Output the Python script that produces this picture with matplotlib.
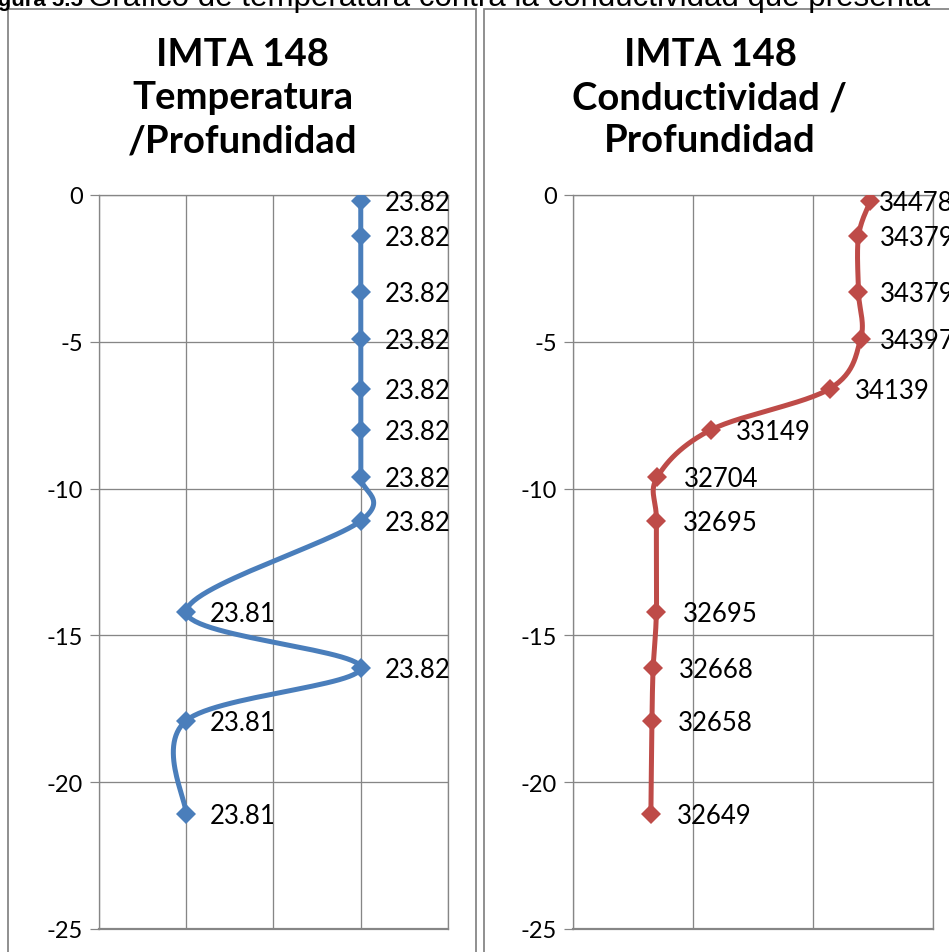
import numpy as np
import matplotlib
matplotlib.use('Agg')
import matplotlib.pyplot as plt
from matplotlib.patches import Rectangle

matplotlib.rcParams.update({
    'font.family': ['Lato', 'DejaVu Sans'],
    'axes.unicode_minus': False,
    'figure.facecolor': 'white',
})

# ── Data ───────────────────────────────────────────────────────────────────
depth = [-0.2, -1.4, -3.3, -4.9, -6.6, -8.0, -9.6, -11.1, -14.2, -16.1, -17.9, -21.1]
temp = [23.82, 23.82, 23.82, 23.82, 23.82, 23.82, 23.82, 23.82, 23.81, 23.82, 23.81, 23.81]
cond = [34478, 34379, 34379, 34397, 34139, 33149, 32704, 32695, 32695, 32668, 32658, 32649]

title_l = 'IMTA 148\nTemperatura\n/Profundidad'
title_r = 'IMTA 148\nConductividad /\nProfundidad'
caption_b = 'Figura 5.5'
caption = 'Gráfico de temperatura contra la conductividad que presenta'

# ── Style ──────────────────────────────────────────────────────────────────
W, H = 949, 953
BLUE = '#4A7EBB'
RED = '#BE4B48'
GRID = '#868686'
PX = 72 / 100  # points per pixel at dpi 100

# label x offsets (pixels) — Excel pushed the top ones inside the chart area
dx_l = [24] * 12
dx_r = [9, 21, 21, 19, 25, 25, 26, 26, 26, 26, 26, 26]


def fx(px):
    return px / W


def fy(py):
    return 1 - py / H


def smooth_path(ax, xs, ys, n=30):
    """Excel-like smoothed line: Catmull-Rom Bezier built in display space."""
    pts = ax.transData.transform(np.column_stack([xs, ys]))
    P = np.vstack([pts[0], pts, pts[-1]])
    out = []
    t = np.linspace(0, 1, n)[:, None]
    for i in range(1, len(P) - 2):
        p0, p3 = P[i], P[i + 1]
        c1 = p0 + (P[i + 1] - P[i - 1]) / 6
        c2 = p3 - (P[i + 2] - P[i]) / 6
        seg = ((1 - t) ** 3) * p0 + 3 * ((1 - t) ** 2) * t * c1 \
            + 3 * (1 - t) * t ** 2 * c2 + t ** 3 * p3
        out.append(seg if i == 1 else seg[1:])
    out = np.vstack(out)
    return ax.transData.inverted().transform(out)


def panel(ax, xv, xlim, xstep, color, labels, dx):
    ax.set_xlim(*xlim)
    ax.set_ylim(-25, 0)
    ax.set_xticks(np.arange(xlim[0], xlim[1] + xstep / 2, xstep))
    ax.set_yticks(np.arange(-25, 1, 5))
    ax.tick_params(axis='x', length=0, labelbottom=False)
    ax.tick_params(axis='y', length=9 * PX, width=1.2 * PX, color=GRID,
                   pad=7 * PX, labelsize=17, direction='out')
    ax.grid(True, color=GRID, lw=1.3 * PX, zorder=0)
    for s in ax.spines.values():
        s.set_color(GRID)
        s.set_linewidth(1.3 * PX)
    ax.spines['bottom'].set_linewidth(2.2 * PX)
    ax.set_axisbelow(True)

    sm = smooth_path(ax, xv, depth)
    ax.plot(sm[:, 0], sm[:, 1], color=color, lw=5 * PX, zorder=3,
            solid_capstyle='round', solid_joinstyle='round')
    ax.plot(xv, depth, ls='none', marker='D', ms=10, mew=0, color=color, zorder=4)
    for x, y, lab, d in zip(xv, depth, labels, dx):
        ax.annotate(lab, (x, y), xytext=(d * PX, -1.5 * PX), textcoords='offset points',
                    ha='left', va='center', fontsize=18.5, color='black',
                    zorder=5, annotation_clip=False)


fig = plt.figure(figsize=(W / 100, H / 100), dpi=100)

# chart-area frames
fig.patches.append(Rectangle((fx(8), fy(H + 20)), fx(476 - 8), fy(10) - fy(H + 20),
                             transform=fig.transFigure, fill=False,
                             ec=GRID, lw=1.8 * PX))
fig.patches.append(Rectangle((fx(484), fy(H + 20)), fx(W + 20 - 484), fy(10) - fy(H + 20),
                             transform=fig.transFigure, fill=False,
                             ec=GRID, lw=1.8 * PX))

ax1 = fig.add_axes([fx(99), fy(930), fx(448 - 99), fy(196) - fy(930)])
ax2 = fig.add_axes([fx(573), fy(930), fx(933 - 573), fy(196) - fy(930)])

panel(ax1, temp, (23.805, 23.825), 0.005, BLUE,
      [f'{v:.2f}' for v in temp], dx_l)
panel(ax2, cond, (32000, 35000), 1000, RED,
      [f'{v:d}' for v in cond], dx_r)

for ttl, cx in ((title_l, 243), (title_r, 710)):
    fig.text(fx(cx), fy(98), ttl, ha='center', va='center', fontsize=27.5,
             fontweight='bold', linespacing=1.33)

# caption sitting above the page crop: only its lower part shows
fig.text(fx(-22), fy(6), caption_b, ha='left', va='baseline', fontsize=16,
         fontweight='bold', family='Liberation Sans')
fig.text(fx(88), fy(6), caption, ha='left', va='baseline', fontsize=22.5,
         family='Liberation Sans')

fig.savefig('out.png', dpi=100, facecolor='white')
